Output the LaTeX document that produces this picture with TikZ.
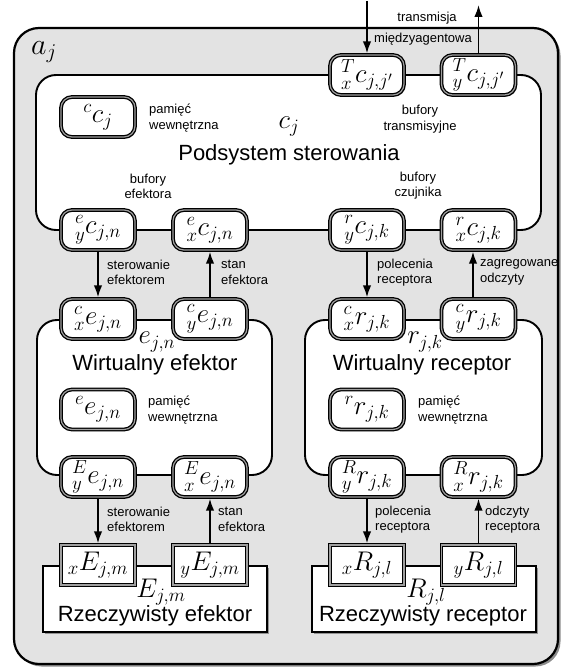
\documentclass[tikz,border=0pt]{standalone}
\usepackage{fix-cm}
\usepackage{fontspec}
\newfontfamily\labelfont{Liberation Sans}
\usetikzlibrary{shadows,arrows.meta}

\newcommand\bufsize{\fontsize{27}{29}\selectfont}
\newcommand\agentsize{\fontsize{30}{32}\selectfont}
\newcommand\titlesize{\fontsize{22}{24}\selectfont}
\newcommand\notesize{\fontsize{13}{15.5}\selectfont}

\begin{document}
\begin{tikzpicture}[x=1pt,y=-1pt,
  boxshadow/.style={drop shadow={shadow xshift=1.6pt,shadow yshift=-1.6pt,fill=black,opacity=0.35}},
  agentbox/.style={draw,line width=2.2pt,fill=gray!22,rounded corners=25pt,
    drop shadow={shadow xshift=2.5pt,shadow yshift=-2.5pt,fill=black,opacity=0.45}},
  subsys/.style={draw,line width=1.9pt,fill=white,rounded corners=20pt,inner sep=0pt},
  realsys/.style={draw,line width=1.9pt,fill=white,inner sep=0pt,boxshadow},
  buffer/.style={draw,line width=1.3pt,double=gray!75,double distance=1.2pt,fill=white,
    rounded corners=11pt,minimum width=74pt,minimum height=40pt,inner sep=0pt,
    font=\bufsize,boxshadow},
  realbuf/.style={buffer,sharp corners},
  mathlabel/.style={font=\bufsize,inner sep=0pt},
  title/.style={font=\labelfont\titlesize,inner sep=0pt},
  note/.style={font=\labelfont\notesize,align=left,inner sep=0pt},
  cnote/.style={font=\labelfont\notesize,align=center,inner sep=0pt},
  flow/.style={line width=1.8pt,-{Latex[length=12pt,width=8.5pt]},shorten >=1pt,shorten <=1pt}
]
\useasboundingbox (0,0) rectangle (566,671);

% agent
\node[agentbox,minimum width=544pt,minimum height=636pt] (agent) at (286,346) {};
\node[font=\agentsize,inner sep=0pt] (aj) at (44,52) {$a_j$};

% subsystems
\node[subsys,minimum width=505pt,minimum height=155pt] (ctrl) at (288.5,152.5) {};
\node[subsys,minimum width=235pt,minimum height=155pt] (veff) at (154.5,397.5) {};
\node[subsys,minimum width=237pt,minimum height=155pt] (vrec) at (423.5,397.5) {};
\node[realsys,minimum width=224pt,minimum height=66pt] (reff) at (155,599) {};
\node[realsys,minimum width=224pt,minimum height=66pt] (rrec) at (424,599) {};

% subsystem names
\node[mathlabel] (cjl) at (289,127) {$c_j$};
\node[title] (ctrlname) at (289,155) {Podsystem sterowania};
\node[mathlabel] (ejl) at (157,342) {$e_{j,n}$};
\node[title] (veffname) at (155,365) {Wirtualny efektor};
\node[mathlabel] (rjl) at (425,342) {$r_{j,k}$};
\node[title] (vrecname) at (422,365) {Wirtualny receptor};
\node[mathlabel] (Ejl) at (161,592) {$E_{j,m}$};
\node[title] (reffname) at (155,616) {Rzeczywisty efektor};
\node[mathlabel] (Rjl) at (426,592) {$R_{j,l}$};
\node[title] (rrecname) at (423,616) {Rzeczywisty receptor};

% transmission buffers
\node[buffer] (Txc) at (367,75) {${}^{T}_{x}c_{j,j'}$};
\node[buffer] (Tyc) at (478.5,75) {${}^{T}_{y}c_{j,j'}$};

% control subsystem memory and buffers
\node[buffer] (ccj) at (98,117) {${}^{c}c_{j}$};
\node[buffer] (eyc) at (98,230) {${}^{e}_{y}c_{j,n}$};
\node[buffer] (exc) at (210,230) {${}^{e}_{x}c_{j,n}$};
\node[buffer] (ryc) at (367,230) {${}^{r}_{y}c_{j,k}$};
\node[buffer] (rxc) at (478.5,230) {${}^{r}_{x}c_{j,k}$};

% virtual effector / receptor buffers
\node[buffer] (cxe) at (98,319) {${}^{c}_{x}e_{j,n}$};
\node[buffer] (cye) at (210,319) {${}^{c}_{y}e_{j,n}$};
\node[buffer] (cxr) at (367,319) {${}^{c}_{x}r_{j,k}$};
\node[buffer] (cyr) at (478.5,319) {${}^{c}_{y}r_{j,k}$};
\node[buffer] (eee) at (98,409.5) {${}^{e}e_{j,n}$};
\node[buffer] (rrr) at (367,409.5) {${}^{r}r_{j,k}$};
\node[buffer] (Eye) at (98,477) {${}^{E}_{y}e_{j,n}$};
\node[buffer] (Exe) at (210,477) {${}^{E}_{x}e_{j,n}$};
\node[buffer] (Ryr) at (367,477) {${}^{R}_{y}r_{j,k}$};
\node[buffer] (Rxr) at (478.5,477) {${}^{R}_{x}r_{j,k}$};

% real effector / receptor buffers
\node[realbuf] (xE) at (98,565) {${}_{x}E_{j,m}$};
\node[realbuf] (yE) at (210,565) {${}_{y}E_{j,m}$};
\node[realbuf] (xR) at (367,565) {${}_{x}R_{j,l}$};
\node[realbuf] (yR) at (478.5,565) {${}_{y}R_{j,l}$};

% descriptions
\node[cnote] (tr1) at (427,18) {transmisja};
\node[cnote] (tr2) at (423,39) {międzyagentowa};
\node[note,anchor=west] (mem1) at (149,118) {pamięć\\wewnętrzna};
\node[cnote] (bt) at (420,119) {bufory\\transmisyjne};
\node[cnote] (be) at (148,186.5) {bufory\\efektora};
\node[cnote] (bc) at (418,185.5) {bufory\\czujnika};
\node[note,anchor=west] (mem2) at (148,410) {pamięć\\wewnętrzna};
\node[note,anchor=west] (mem3) at (418,410) {pamięć\\wewnętrzna};

\node[note,anchor=west] (n1) at (107,272.5) {sterowanie\\efektorem};
\node[note,anchor=west] (n2) at (221,272.5) {stan\\efektora};
\node[note,anchor=west] (n3) at (377,272.5) {polecenia\\receptora};
\node[note,anchor=west] (n4) at (480,272.5) {zagregowane\\odczyty};
\node[note,anchor=west] (n5) at (107,519.5) {sterowanie\\efektorem};
\node[note,anchor=west] (n6) at (218,519.5) {stan\\efektora};
\node[note,anchor=west] (n7) at (375,519.5) {polecenia\\receptora};
\node[note,anchor=west] (n8) at (485,519.5) {odczyty\\receptora};

% connectors
\coordinate (inTop) at (367,0);
\coordinate (outTop) at (478.5,4);
\draw[flow] (inTop) -- (Txc.north);
\draw[flow] (Tyc.north) -- (outTop);
\draw[flow] (eyc.south) -- (cxe.north);
\draw[flow] (cye.north) -- (exc.south);
\draw[flow] (ryc.south) -- (cxr.north);
\draw[flow] ([xshift=-5.5pt]cyr.north) -- ([xshift=-5.5pt]rxc.south);
\draw[flow] (Eye.south) -- (xE.north);
\draw[flow] (yE.north) -- (Exe.south);
\draw[flow] (Ryr.south) -- (xR.north);
\draw[flow] (yR.north) -- (Rxr.south);
\end{tikzpicture}
\end{document}
